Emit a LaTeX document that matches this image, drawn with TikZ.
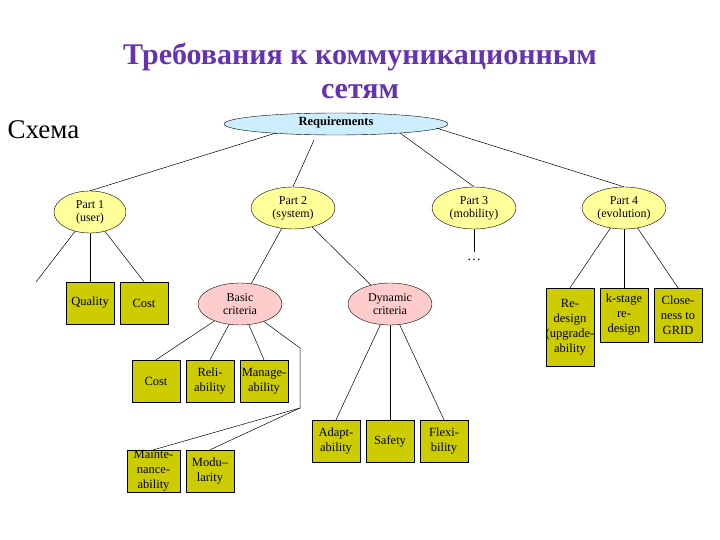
\documentclass[tikz,border=0pt]{standalone}
\usepackage{fontspec}
\setmainfont{Liberation Serif}
\usetikzlibrary{shapes.geometric}
\definecolor{ttl}{HTML}{6633B0}
\definecolor{reqc}{HTML}{CCEEFF}
\definecolor{partc}{HTML}{FFFF99}
\definecolor{critc}{HTML}{FFCCCC}
\definecolor{boxc}{HTML}{CCCC00}
\begin{document}
\begin{tikzpicture}[x=1pt,y=-1pt,
  ell/.style={ellipse,draw,inner sep=0pt,align=center,font=\fontsize{12}{13}\selectfont},
  part/.style={ell,fill=partc,minimum width=84pt,minimum height=42pt},
  crit/.style={ell,fill=critc,minimum width=84pt,minimum height=42pt},
  box/.style={draw,fill=boxc,inner sep=0pt,minimum width=48pt,align=center,font=\fontsize{12.5}{15}\selectfont},
  ln/.style={draw,line width=0.5pt}]
\useasboundingbox (0,0) rectangle (720,540);
\node[font=\fontsize{30}{34}\selectfont\bfseries,text=ttl,align=center] (title) at (360,71) {Требования к коммуникационным\\сетям};
\node[font=\fontsize{27}{30}\selectfont,anchor=west] (schema) at (4,130) {Схема};
\node[ell,fill=reqc,minimum width=224pt,minimum height=22pt,font=\fontsize{12.5}{13}\selectfont\bfseries,text depth=5pt] (req) at (336,124) {Requirements};
\node[part,minimum width=72pt] (p1) at (90,212) {Part 1\\(user)};
\node[part] (p2) at (293,208) {Part 2\\(system)};
\node[part] (p3) at (474,208) {Part 3\\(mobility)};
\node[part] (p4) at (624,208) {Part 4\\(evolution)};
\coordinate (p3e) at (474,252);
\node[font=\fontsize{14}{14}\selectfont] (dots) at (474,260) {\dots};
\node[box,minimum height=42pt] (qual) at (90,303) {Quality};
\node[box,minimum height=42pt] (cost1) at (144,303) {Cost};
\coordinate (p1free) at (36,282);
\node[crit] (basic) at (240,304) {Basic\\criteria};
\node[crit] (dyn) at (390,304) {Dynamic\\criteria};
\node[box,minimum height=42pt] (cost2) at (156,381) {Cost};
\node[box,minimum height=42pt] (reli) at (210,381) {Reli-\\ability};
\node[box,minimum height=42pt] (mng) at (264,381) {Manage-\\ability};
\node[box,minimum height=42pt,minimum width=53pt] (mnt) at (153.5,471) {Mainte-\\nance-\\ability};
\node[box,minimum height=42pt] (mod) at (210,471) {Modu--\\larity};
\coordinate (b1) at (300,348);
\coordinate (b2) at (300,408);
\node[box,minimum height=42pt] (adapt) at (336,441) {Adapt-\\ability};
\node[box,minimum height=42pt] (safe) at (390,441) {Safety};
\node[box,minimum height=42pt] (flex) at (444,441) {Flexi-\\bility};
\node[box,minimum height=78pt] (redes) at (570,327) {Re-\\design\\(upgrade-\\ability};
\node[box,minimum height=54pt] (kst) at (624,315) {k-stage\\re-\\design};
\node[box,minimum height=54pt] (close) at (678,315) {Close-\\ness to\\GRID};
% connectors
\draw[ln] (req.south west) ++(0,0);
\draw[ln] (276,133) -- (p1.north);
\draw[ln] (req.south) ++(-22,5) -- (p2.north);
\draw[ln] (400,133) -- (p3.north);
\draw[ln] (req.east) ++(-12,4) -- (p4.north);
\draw[ln] (p1) -- (p1free);
\draw[ln] (p1.south) -- (qual.north);
\draw[ln] (p1) -- (cost1.north);
\draw[ln] (p2) -- (basic);
\draw[ln] (p2) -- (dyn);
\draw[ln] (p3.south) -- (p3e);
\draw[ln] (basic) -- (cost2.north);
\draw[ln] (basic) -- (reli.north);
\draw[ln] (basic) -- (mng.north);
\draw[ln] (basic) -- (b1) -- (b2) -- (mnt.north);
\draw[ln] (b2) -- (mod.north);
\draw[ln] (dyn) -- (adapt.north);
\draw[ln] (dyn.south) -- (safe.north);
\draw[ln] (dyn) -- (flex.north);
\draw[ln] (p4) -- (redes.north);
\draw[ln] (p4.south) -- (kst.north);
\draw[ln] (p4) -- (close.north);
\end{tikzpicture}
\end{document}
